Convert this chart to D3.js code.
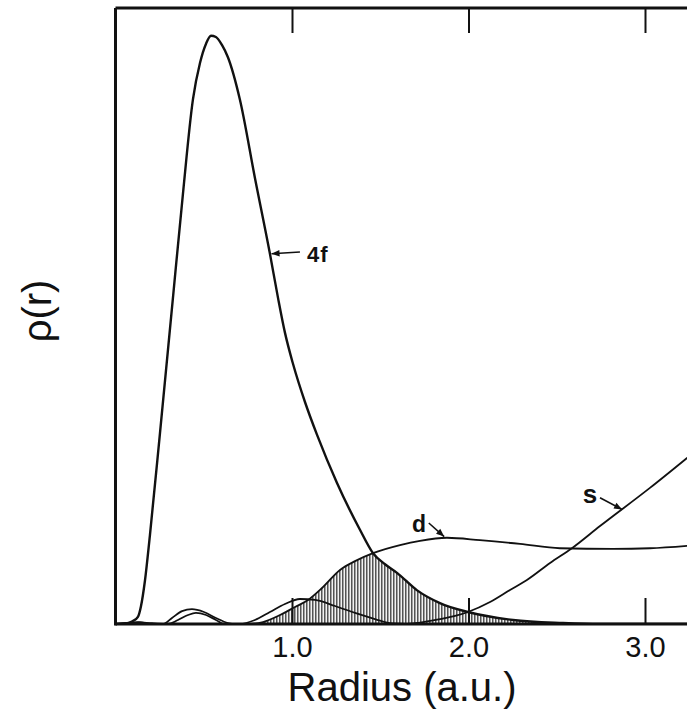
<!DOCTYPE html>
<html><head><meta charset="utf-8">
<script src="https://cdn.jsdelivr.net/npm/d3@7"></script>
<style>html,body{margin:0;padding:0;background:#fff;overflow:hidden;} svg{display:block;}</style>
</head><body>
<script>
// Radial densities (value units: 4f peak ≈ 95.5)
const r4f = [0, 0.048, 0.099, 0.127, 0.144, 0.167, 0.195, 0.252, 0.326, 0.382, 0.439, 0.479, 0.513, 0.541, 0.569, 0.603, 0.637, 0.705, 0.790, 0.875, 0.921, 0.960, 1.006, 1.074, 1.142, 1.255, 1.385, 1.459, 1.527, 1.595, 1.707, 1.838, 1.997, 2.252, 2.535, 2.745, 3.24];
const v4f = [0, 0.06, 0.49, 1.14, 2.84, 7.06, 14.4, 31.0, 53.1, 69.8, 85.2, 91.1, 94.2, 95.5, 95.3, 94.0, 92.0, 85.1, 72.4, 60.1, 52.9, 47.3, 42.2, 36.0, 30.7, 22.9, 15.3, 11.5, 9.7, 8.3, 5.5, 3.4, 1.95, 0.65, 0.16, 0, 0];

const rD = [0, 0.071, 0.139, 0.195, 0.269, 0.320, 0.377, 0.433, 0.501, 0.569, 0.637, 0.683, 0.762, 0.836, 0.932, 1.017, 1.091, 1.170, 1.272, 1.357, 1.459, 1.612, 1.725, 1.878, 2.065, 2.292, 2.518, 2.819, 3.028, 3.24];
const vD = [0, 0.11, 0.24, 0.08, 0, 0.97, 2.1, 2.4, 1.95, 0.97, 0.16, 0, 0, 0.32, 1.46, 2.76, 3.9, 5.84, 8.77, 10.2, 11.5, 12.8, 13.5, 14.0, 13.6, 13.0, 12.3, 12.2, 12.3, 12.7];

const rS = [0, 0.059, 0.127, 0.207, 0.252, 0.297, 0.354, 0.411, 0.456, 0.513, 0.569, 0.615, 0.705, 0.790, 0.875, 0.960, 1.045, 1.130, 1.244, 1.357, 1.470, 1.567, 1.640, 1.725, 1.839, 1.924, 1.997, 2.122, 2.235, 2.331, 2.462, 2.586, 2.745, 3.028, 3.24];
const vS = [0, 0.16, 0.32, 0.08, 0, 0, 0.65, 1.46, 1.79, 1.46, 0.65, 0, 0, 0.65, 1.95, 3.25, 4.06, 3.9, 2.92, 1.79, 0.81, 0.08, 0, 0.24, 0.81, 1.3, 1.95, 3.57, 5.52, 7.14, 9.9, 12.3, 15.9, 22.1, 27.0];

const xTicks = [1, 2, 3];
const xTickLabels = ["1.0", "2.0", "3.0"];

// annotation anchors in data units: label position, arrow tail, arrow tip
const labels = [
  {text: "4f", lr: 1.085, lv: 58.8, tr: 1.045, tv: 60.4, hr: 0.884, hv: 60.1, size: 22},
  {text: "d",  lr: 1.68,  lv: 14.9, tr: 1.775, tv: 16.4, hr: 1.862, hv: 14.2, size: 23},
  {text: "s",  lr: 2.648, lv: 19.6, tr: 2.745, tv: 20.5, hr: 2.870, hv: 18.6, size: 26}
];

const W = 687, H = 712;
const x = d3.scaleLinear().domain([0, 3]).range([115.5, 645]);
const y = d3.scaleLinear().domain([0, 100]).range([624, 8]);

const svg = d3.select("body").append("svg").attr("width", W).attr("height", H);
const defs = svg.append("defs");

defs.append("clipPath").attr("id", "plot").append("rect")
  .attr("x", x(0)).attr("y", y(100)).attr("width", W - x(0)).attr("height", y(0) - y(100));

const pat = defs.append("pattern").attr("id", "hatch").attr("patternUnits", "userSpaceOnUse")
  .attr("width", 3).attr("height", 10);
pat.append("rect").attr("width", 3).attr("height", 10).attr("fill", "#f2f2f2");
pat.append("line").attr("x1", 0.8).attr("x2", 0.8).attr("y1", 0).attr("y2", 10)
  .attr("stroke", "#333").attr("stroke-width", 1.25);

defs.append("marker").attr("id", "arr").attr("markerUnits", "userSpaceOnUse")
  .attr("viewBox", "0 -5 10 10").attr("refX", 10).attr("refY", 0)
  .attr("markerWidth", 10).attr("markerHeight", 8).attr("orient", "auto")
  .append("path").attr("d", "M0,-4L10,0L0,4Z").attr("fill", "#111");

const zip = (rs, vs) => rs.map((r, i) => [r, vs[i]]);
const s4f = zip(r4f, v4f), sD = zip(rD, vD), sS = zip(rS, vS);

const line = d3.line().x(d => x(d[0])).y(d => y(d[1])).curve(d3.curveMonotoneX);
const area = d3.area().x(d => x(d[0])).y0(y(0)).y1(d => y(d[1])).curve(d3.curveMonotoneX);

// overlap region: area under d clipped to area under 4f
defs.append("clipPath").attr("id", "under4f").append("path").attr("d", area(s4f));

const g = svg.append("g").attr("clip-path", "url(#plot)");
g.append("path").attr("d", area(sD.filter(d => d[0] >= 0.7)))
  .attr("fill", "url(#hatch)").attr("clip-path", "url(#under4f)");

g.append("path").attr("d", line(sS)).attr("fill", "none").attr("stroke", "#111").attr("stroke-width", 1.8);
g.append("path").attr("d", line(sD)).attr("fill", "none").attr("stroke", "#111").attr("stroke-width", 1.8);
g.append("path").attr("d", line(s4f)).attr("fill", "none").attr("stroke", "#111").attr("stroke-width", 2.4);

// frame
const ax = svg.append("g").attr("stroke", "#111").attr("fill", "none");
ax.append("line").attr("x1", x(0)).attr("x2", x(0)).attr("y1", y(100)).attr("y2", y(0) + 1.5).attr("stroke-width", 3);
ax.append("line").attr("x1", x(0)).attr("x2", W).attr("y1", y(100)).attr("y2", y(100)).attr("stroke-width", 2.8);
ax.append("line").attr("x1", x(0)).attr("x2", W).attr("y1", y(0)).attr("y2", y(0)).attr("stroke-width", 3);

// ticks via axes (inward)
const bottomAxis = d3.axisBottom(x).tickValues(xTicks).tickSize(-26).tickFormat((d, i) => xTickLabels[i]);
const gb = svg.append("g").attr("transform", `translate(0,${y(0)})`).call(bottomAxis);
gb.select(".domain").remove();
gb.selectAll(".tick line").attr("stroke", "#111").attr("stroke-width", 2);
gb.selectAll(".tick text").attr("fill", "#111").attr("font-family", "Liberation Sans, Arial, sans-serif")
  .attr("font-size", 29).attr("dy", 0).attr("y", 33);

const topAxis = d3.axisTop(x).tickValues(xTicks).tickSize(-25).tickFormat("");
const gt = svg.append("g").attr("transform", `translate(0,${y(100)})`).call(topAxis);
gt.select(".domain").remove();
gt.selectAll(".tick line").attr("stroke", "#111").attr("stroke-width", 2);

// axis titles
svg.append("text").attr("x", 402).attr("y", 701).attr("text-anchor", "middle")
  .attr("font-family", "Liberation Sans, Arial, sans-serif").attr("font-size", 40).attr("fill", "#111")
  .text("Radius (a.u.)");
svg.append("text").attr("transform", "translate(51,311) rotate(-90)").attr("text-anchor", "middle")
  .attr("font-family", "Liberation Sans, Arial, sans-serif").attr("font-size", 40).attr("fill", "#111")
  .text("ρ(r)");

// curve labels with arrows
labels.forEach(l => {
  svg.append("line").attr("x1", x(l.tr)).attr("y1", y(l.tv)).attr("x2", x(l.hr)).attr("y2", y(l.hv))
    .attr("stroke", "#111").attr("stroke-width", 1.6).attr("marker-end", "url(#arr)");
  svg.append("text").attr("x", x(l.lr)).attr("y", y(l.lv))
    .attr("font-family", "Liberation Sans, Arial, sans-serif").attr("font-weight", "bold")
    .attr("letter-spacing", l.text === "4f" ? 1 : 0)
    .attr("font-size", l.size).attr("fill", "#111").text(l.text);
});
</script>
</body></html>
